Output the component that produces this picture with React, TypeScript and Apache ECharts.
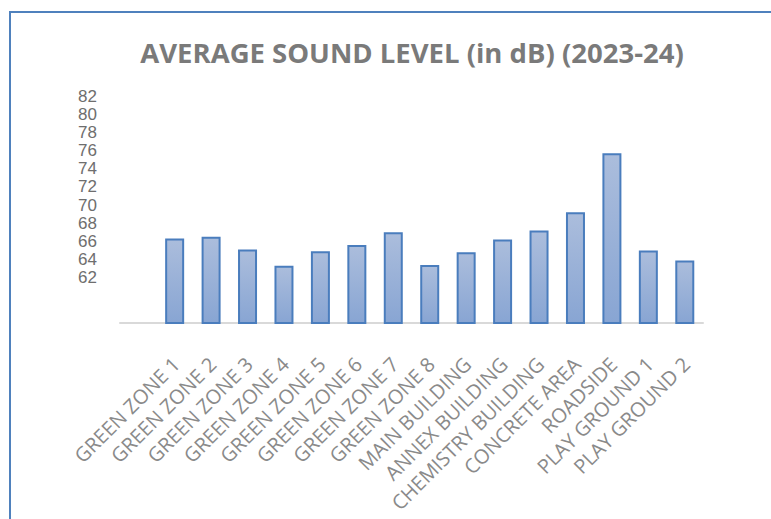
import React, { useEffect, useRef } from "react";
import * as echarts from "echarts";

// Monitoring locations (the leading blank slot keeps the axis line running left of the first bar)
const locations = [
  "",
  "GREEN ZONE 1",
  "GREEN ZONE 2",
  "GREEN ZONE 3",
  "GREEN ZONE 4",
  "GREEN ZONE 5",
  "GREEN ZONE 6",
  "GREEN ZONE 7",
  "GREEN ZONE 8",
  "MAIN BUILDING",
  "ANNEX BUILDING",
  "CHEMISTRY BUILDING",
  "CONCRETE AREA",
  "ROADSIDE",
  "PLAY GROUND 1",
  "PLAY GROUND 2",
];

// Average sound level per location, dB
const soundLevels: (number | null)[] = [
  null, 66.3, 66.5, 65.1, 63.3, 64.9, 65.6, 67.0, 63.4, 64.8, 66.2, 67.2, 69.2, 75.7, 65.0, 63.9,
];

// Labelled levels on the value axis
const levelTicks = [62, 64, 66, 68, 70, 72, 74, 76, 78, 80, 82];

const TITLE = "AVERAGE SOUND LEVEL (in dB) (2023-24)";

export default function App() {
  const ref = useRef<HTMLDivElement>(null);

  useEffect(() => {
    if (!ref.current) return;
    const chart = echarts.init(ref.current, null, { renderer: "svg" });
    chart.setOption({
      animation: false,
      backgroundColor: "#ffffff",
      title: {
        text: TITLE,
        left: 407,
        textAlign: "center",
        top: 33,
        textStyle: {
          fontFamily: "'Open Sans', sans-serif",
          fontSize: 27.5,
          fontWeight: "bold",
          color: "#7a7a7a",
        },
      },
      graphic: [
        {
          type: "rect",
          shape: { x: 10, y: 12, width: 900, height: 700 },
          style: { fill: "none", stroke: "#4f81bd", lineWidth: 2 },
          silent: true,
        },
      ],
      grid: { left: 120, right: 68, top: 78, bottom: 196 },
      xAxis: {
        type: "category",
        data: locations,
        axisLine: { lineStyle: { color: "#d9d9d9", width: 2 } },
        axisTick: { show: false },
        axisLabel: {
          interval: 0,
          rotate: 45,
          margin: 25,
          padding: [0, 8, 0, 0],
          verticalAlign: "top",
          color: "#8a8a8a",
          fontFamily: "'Open Sans', sans-serif",
          fontSize: 20,
        },
      },
      yAxis: {
        type: "value",
        min: 57,
        max: 84,
        splitLine: { show: false },
        axisLine: { show: false },
        axisTick: { show: false },
        axisLabel: {
          customValues: levelTicks,
          hideOverlap: false,
          showMinLabel: true,
          showMaxLabel: true,
          margin: 23,
          color: "#6e6e6e",
          fontFamily: "'Liberation Sans', sans-serif",
          fontSize: 17,
          lineHeight: 17,
        },
      },
      series: [
        {
          type: "bar",
          data: soundLevels,
          barWidth: 19,
          itemStyle: {
            color: new echarts.graphic.LinearGradient(0, 0, 0, 1, [
              { offset: 0, color: "#abbddc" },
              { offset: 1, color: "#88a5d3" },
            ]),
            borderColor: "#4a7dbd",
            borderWidth: 2,
          },
        },
      ],
    });
    return () => chart.dispose();
  }, []);

  return (
    <div
      ref={ref}
      style={{ position: "fixed", left: 0, top: 0, width: 771, height: 519 }}
    />
  );
}
